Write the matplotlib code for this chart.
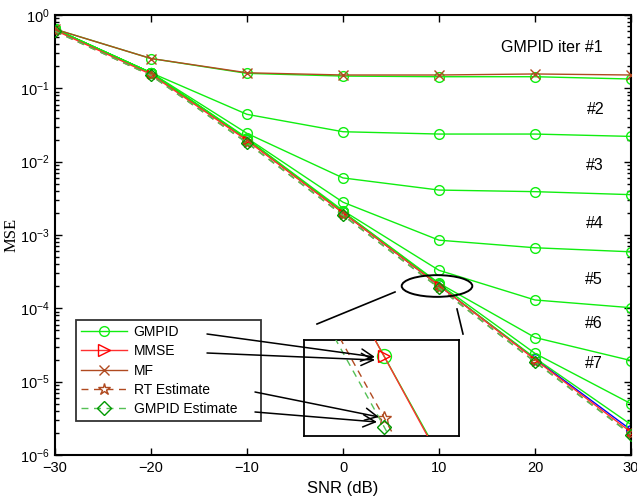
import matplotlib
matplotlib.use('Agg')
import matplotlib.pyplot as plt
from matplotlib.patches import Ellipse, FancyArrowPatch
from matplotlib.lines import Line2D
from matplotlib.ticker import LogLocator, LogFormatterSciNotation, NullFormatter

plt.rcParams['font.family'] = ['Liberation Sans', 'DejaVu Sans']
plt.rcParams['mathtext.fontset'] = 'custom'
plt.rcParams['mathtext.rm'] = 'Liberation Sans'
plt.rcParams['mathtext.it'] = 'Liberation Sans:italic'
plt.rcParams['mathtext.bf'] = 'Liberation Sans:bold'

# ---------------- data ----------------
snr = [-30, -20, -10, 0, 10, 20, 30]

gmpid_iter1 = [0.64, 0.255, 0.160, 0.147, 0.144, 0.144, 0.134]
gmpid_iter2 = [0.64, 0.163, 0.0442, 0.0256, 0.0238, 0.0238, 0.0221]
gmpid_iter3 = [0.64, 0.163, 0.0243, 0.0060, 0.0041, 0.0039, 0.00355]
gmpid_iter4 = [0.64, 0.163, 0.0210, 0.0028, 8.5e-4, 6.7e-4, 5.9e-4]
gmpid_iter5 = [0.64, 0.163, 0.0205, 0.00215, 3.3e-4, 1.3e-4, 1.02e-4]
gmpid_iter6 = [0.64, 0.163, 0.0203, 0.00207, 2.2e-4, 4.0e-5, 1.94e-5]
gmpid_iter7 = [0.64, 0.163, 0.0202, 0.00205, 2.15e-4, 2.43e-5, 5.0e-6]
gmpid_iter8 = [0.64, 0.162, 0.0200, 0.00203, 2.05e-4, 2.1e-5, 2.6e-6]
gmpid_iters = [gmpid_iter1, gmpid_iter2, gmpid_iter3, gmpid_iter4,
               gmpid_iter5, gmpid_iter6, gmpid_iter7, gmpid_iter8]
gmpid_final = [0.64, 0.162, 0.0200, 0.00203, 2.05e-4, 2.05e-5, 2.2e-6]

mmse = [0.62, 0.155, 0.0195, 0.00200, 2.05e-4, 2.0e-5, 2.05e-6]
mf = [0.64, 0.255, 0.163, 0.152, 0.152, 0.157, 0.152]
rt_est = [0.60, 0.150, 0.0182, 0.00187, 1.91e-4, 1.87e-5, 1.92e-6]
gmpid_est = [0.60, 0.150, 0.0180, 0.00185, 1.89e-4, 1.85e-5, 1.90e-6]

iter_labels = ['GMPID iter #1', '#2', '#3', '#4', '#5', '#6', '#7']
legend_labels = ['GMPID', 'MMSE', 'MF', 'RT Estimate', 'GMPID Estimate']
xticks = [-30, -20, -10, 0, 10, 20, 30]

# ---------------- style ----------------
C_G = '#10ee10'
C_MMSE_L = '#ff3030'
C_MMSE_M = '#ff0000'
C_MF = '#b04a20'
C_RT = '#b04a20'
C_GE_L = '#55c055'
C_GE_M = '#009900'

W, H = 637, 496
fig = plt.figure(figsize=(W / 100, H / 100), dpi=100)


def fx(px):
    return px / W


def fy(py):
    return 1 - py / H


ax = fig.add_axes([fx(55), fy(455), 576 / W, 440 / H])
ax.set_yscale('log')

ax.plot(snr, gmpid_final, color='#0000ff', lw=1.0, marker='o', ms=7, mfc='none', zorder=1)
for vals in gmpid_iters:
    ax.plot(snr, vals, color=C_G, lw=1.0, marker='o', ms=7, mfc='none', mew=1.0, zorder=2)
ax.plot(snr, mmse, color=C_MMSE_L, lw=1.0, marker='>', ms=6, mfc='none', mec=C_MMSE_M, zorder=3)
ax.plot(snr, mf, color=C_MF, lw=1.0, marker='x', ms=7, zorder=3)
ax.plot(snr, rt_est, color=C_RT, lw=1.0, ls=(0, (5, 4)), marker='*', ms=8, mfc='none', mec=C_RT, zorder=4)
ax.plot(snr, gmpid_est, color=C_GE_L, lw=1.0, ls=(0, (5, 4)), marker='D', ms=6, mfc='none', mec=C_GE_M, zorder=4)

ax.set_xlim(-30, 30)
ax.set_ylim(1e-6, 1)
ax.set_xticks(xticks)
ax.yaxis.set_major_locator(LogLocator(base=10, numticks=10))
ax.yaxis.set_minor_locator(LogLocator(base=10, subs=range(2, 10), numticks=20))
ax.yaxis.set_major_formatter(LogFormatterSciNotation())
ax.yaxis.set_minor_formatter(NullFormatter())
ax.tick_params(which='both', direction='in', top=True, right=True, labelsize=10.5, width=1.0)
ax.tick_params(which='major', length=5, pad=4)
ax.tick_params(which='minor', length=3)
for s in ax.spines.values():
    s.set_linewidth(1.5)

ax.set_xlabel('SNR (dB)', fontsize=12, labelpad=5)
ax.set_ylabel('MSE', fontsize=12, family=['Liberation Serif', 'DejaVu Serif'])
ax.yaxis.set_label_coords(-0.062, 0.5)

# legend
handles = [
    Line2D([], [], color=C_G, lw=1.0, marker='o', ms=7, mfc='none'),
    Line2D([], [], color=C_MMSE_L, lw=1.0, marker='>', ms=8, mfc='none', mec=C_MMSE_M),
    Line2D([], [], color=C_MF, lw=1.0, marker='x', ms=7),
    Line2D([], [], color=C_RT, lw=1.0, ls=(0, (5, 4)), marker='*', ms=9, mfc='none', mec=C_RT),
    Line2D([], [], color=C_GE_L, lw=1.0, ls=(0, (5, 4)), marker='D', ms=7, mfc='none', mec=C_GE_M),
]
leg = ax.legend(handles, legend_labels, loc='lower left',
                bbox_to_anchor=((76 - 55) / 576, (455 - 421) / 440, 185 / 576, 101 / 440),
                mode='expand',
                borderaxespad=0, fontsize=10, frameon=True, fancybox=False,
                edgecolor='black', handlelength=3.3, labelspacing=0.38,
                borderpad=0.35, handletextpad=0.5)
leg.get_frame().set_linewidth(1.3)
leg.set_zorder(10)

# iteration labels
label_pos = [(552, 48), (596, 109), (595, 165), (595, 223), (594, 280), (594, 323), (594, 363)]
for t, (px, py) in zip(iter_labels, label_pos):
    fig.text(fx(px), fy(py), t, ha='center', va='center', fontsize=11.5)

# ellipse marking zoom region
ell = Ellipse(((437 - 55) / 576, (455 - 286) / 440), 70.6 / 576, 21.7 / 440,
              transform=ax.transAxes, fill=False, ec='black', lw=1.4, zorder=6)
ax.add_patch(ell)

# inset
axin = fig.add_axes([fx(304), fy(436), 155 / W, 96 / H])
axin.set_yscale('log')
axin.plot(snr, gmpid_iter8, color=C_G, lw=1.0, marker='o', ms=10, mfc='none', zorder=2)
axin.plot(snr, mmse, color=C_MMSE_L, lw=1.0, marker='>', ms=8, mfc='none', mec=C_MMSE_M, zorder=3)
axin.plot(snr, rt_est, color=C_RT, lw=1.0, ls=(0, (5, 4)), marker='*', ms=10, mfc='none', mec=C_RT, zorder=4)
axin.plot(snr, gmpid_est, color=C_GE_L, lw=1.0, ls=(0, (5, 4)), marker='D', ms=7, mfc='none', mec=C_GE_M, zorder=4)
axin.set_xlim(9.27, 10.68)
axin.set_ylim(10 ** -3.728, 10 ** -3.680)
axin.set_xticks([])
axin.set_yticks([])
axin.minorticks_off()
axin.set_yticks([], minor=True)
for s in axin.spines.values():
    s.set_linewidth(1.3)

# connector lines from ellipse to inset
fig.add_artist(Line2D([fx(317), fx(395)], [fy(324), fy(292)], color='black', lw=1.2))
fig.add_artist(Line2D([fx(457), fx(463)], [fy(309), fy(334)], color='black', lw=1.2))

# arrows from legend to inset markers
arrows = [((207, 334), (375, 357)), ((207, 353), (375, 360)),
          ((255, 392), (379, 417)), ((255, 412), (377, 422))]
for (x0, y0), (x1, y1) in arrows:
    fig.add_artist(FancyArrowPatch((fx(x0), fy(y0)), (fx(x1), fy(y1)),
                                   transform=fig.transFigure, arrowstyle='->',
                                   mutation_scale=22, lw=1.1, color='black',
                                   shrinkA=0, shrinkB=0, zorder=20))

fig.savefig('out.png', dpi=100)
